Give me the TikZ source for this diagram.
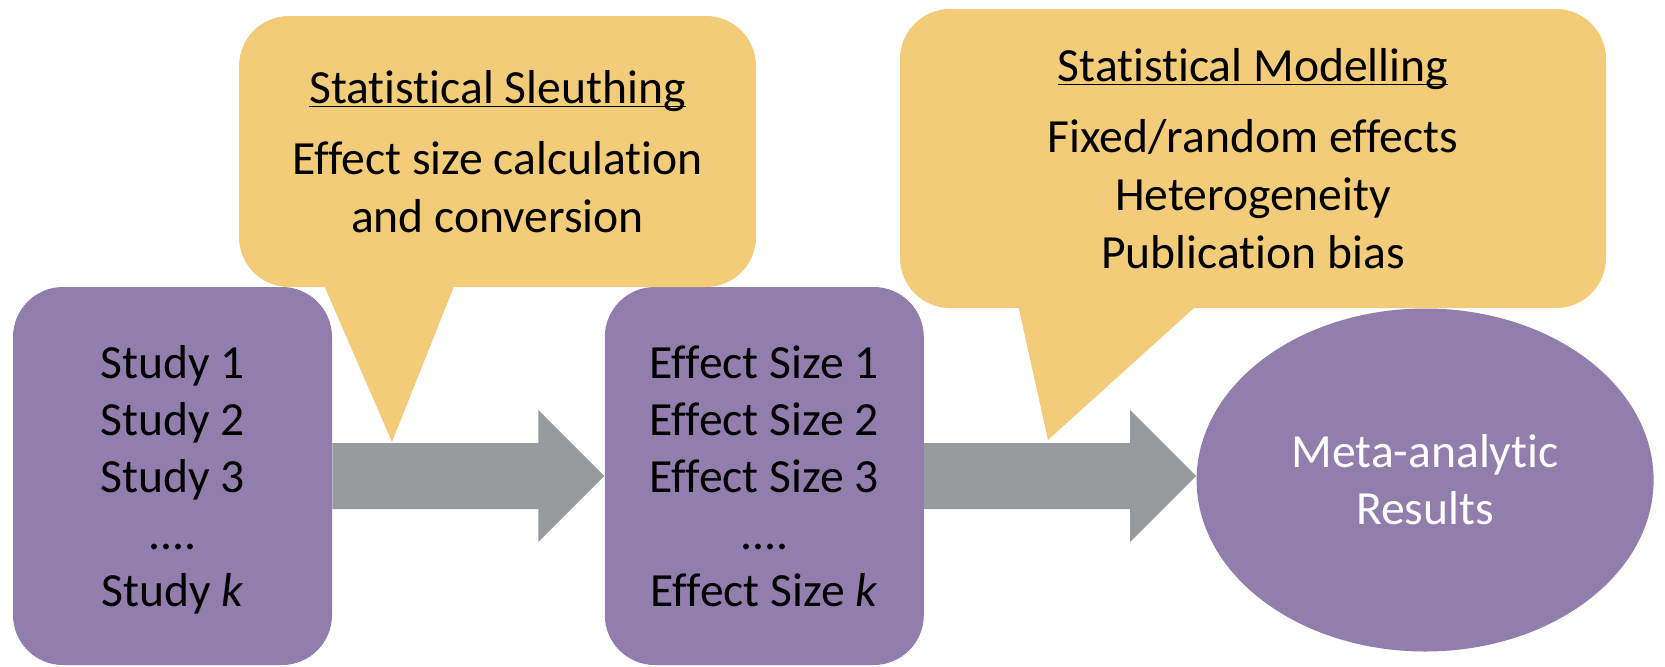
\documentclass[tikz,border=0pt]{standalone}
\usepackage{fontspec}
\setmainfont{Carlito}[Ligatures=CommonOff]
\usepackage{tikz}
\usetikzlibrary{calc,positioning,shapes.geometric}

\definecolor{boxpurple}{RGB}{145,126,173}
\definecolor{notegold}{RGB}{243,204,121}
\definecolor{arrowgray}{RGB}{152,155,157}

\newcommand{\bodyfont}{\fontsize{23.8}{28.5}\selectfont}
\newcommand{\notefont}{\fontsize{23.8}{29}\selectfont}
\newcommand{\notehead}[1]{\underline{\smash{#1}\vphantom{l}}}

\begin{document}
\begin{tikzpicture}[
      x=0.5pt, y=-0.5pt,
      stepbox/.style={
         rectangle,
         rounded corners=25pt,
         fill=boxpurple,
         inner sep=0pt,
         minimum width=159.5pt,
         minimum height=189pt,
         text depth=0pt,
         align=center,
         font=\bodyfont},
      resultnode/.style={
         ellipse,
         fill=boxpurple,
         inner sep=0pt,
         minimum width=228.5pt,
         minimum height=171.5pt,
         align=center,
         text=white,
         font=\bodyfont},
      note/.style={
         rectangle,
         rounded corners=25pt,
         fill=notegold,
         inner sep=0pt,
         align=center,
         font=\notefont},
      bigarrow/.style={fill=arrowgray},
      node distance=136pt
      ]
\useasboundingbox (0,0) rectangle (1665,666);

\node[stepbox              ] (study) at (172.5,476) {Study 1\\Study 2\\Study 3\\....\\Study \textit{k}};
\node[stepbox,right=of study] (effect) {Effect Size 1\\Effect Size 2\\Effect Size 3\\....\\Effect Size \textit{k}};
\node[resultnode,right=of effect,yshift=-2pt] (result) {Meta-analytic\\Results};

\foreach \a/\b in {% start node/end node
      study/effect, effect/result}
   \fill[bigarrow] ($(\a.east)+(0,-33)$) -- ($(\a.east -| \b.west)+(-66,-33)$) -- ($(\a.east -| \b.west)+(-66,-66)$)
      -- (\a.east -| \b.west) -- ($(\a.east -| \b.west)+(-66,66)$) -- ($(\a.east -| \b.west)+(-66,33)$)
      -- ($(\a.east)+(0,33)$) -- cycle;

% callouts
\node[note,minimum width=258.5pt,minimum height=135.5pt] (sleuth) at (497.5,151.5)
   {\notehead{Statistical Sleuthing}\\[6.5pt]Effect size calculation\\and conversion};
\node[note,minimum width=353pt,minimum height=149.5pt] (model) at (1253,158.5)
   {\notehead{Statistical Modelling}\\[6.5pt]Fixed/random effects\\Heterogeneity\\Publication bias};

\coordinate (sleuthtip) at (392,442);
\coordinate (modeltip) at (1048,440);
\fill[notegold] ($(sleuth.south west)+(82,-10)$) -- ($(sleuth.south west)+(219,-10)$) -- (sleuthtip) -- cycle;
\fill[notegold] ($(model.south west)+(117,-10)$) -- ($(model.south west)+(305,-10)$) -- (modeltip) -- cycle;

\end{tikzpicture}
\end{document}
